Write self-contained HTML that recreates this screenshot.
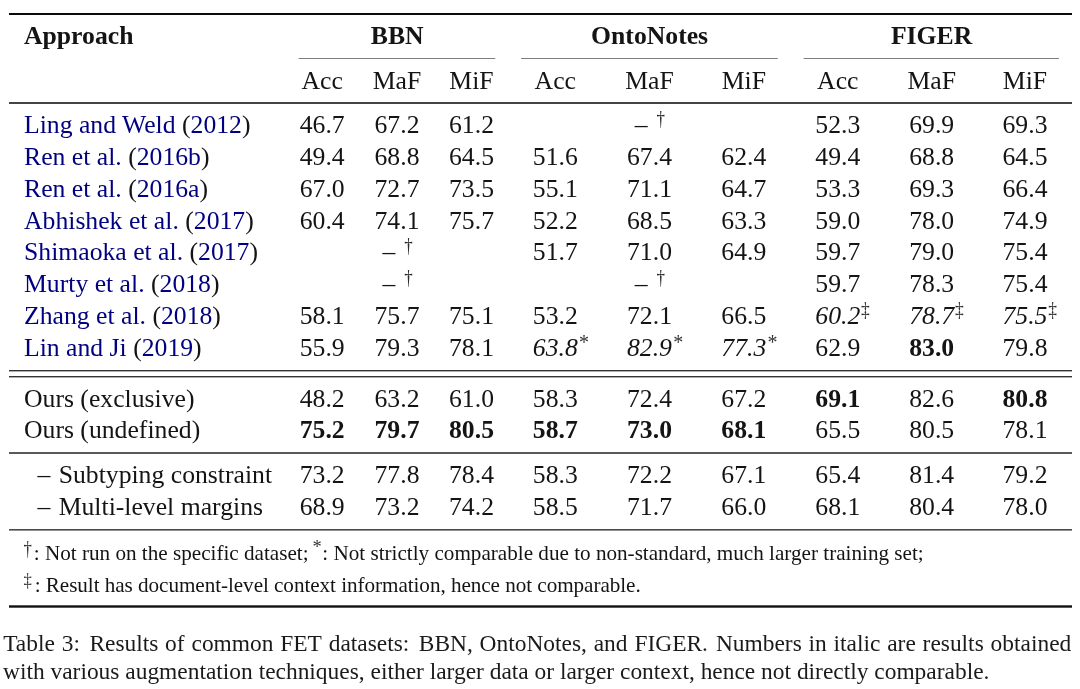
<!DOCTYPE html>
<html><head><meta charset="utf-8"><title>Table 3</title>
<style>
html,body{margin:0;padding:0;background:#fff;width:1080px;height:689px;overflow:hidden}
svg{display:block;font-family:"Liberation Serif","Times New Roman",serif;font-size:25.7px;fill:#141414}
</style></head><body>
<svg width="1080" height="689" viewBox="0 0 1080 689">
<rect x="9" y="13" width="1063.00" height="2" fill="#0a0a0a"/>
<rect x="298.6" y="58" width="196.70" height="1" fill="#7f7f7f"/>
<rect x="521.1" y="58" width="256.70" height="1" fill="#7f7f7f"/>
<rect x="803.6" y="58" width="255.30" height="1" fill="#7f7f7f"/>
<rect x="9" y="102" width="1063.00" height="2" fill="#444"/>
<rect x="9" y="370" width="1063.00" height="1.4" fill="#333"/>
<rect x="9" y="376" width="1063.00" height="1.4" fill="#333"/>
<rect x="9" y="452" width="1063.00" height="2" fill="#5a5a5a"/>
<rect x="9" y="529" width="1063.00" height="1.6" fill="#4a4a4a"/>
<rect x="9" y="605.3" width="1063.00" height="2.4" fill="#111"/>
<text x="24.00" y="44.00" font-weight="bold">Approach</text>
<text x="397.20" y="44.00" text-anchor="middle" font-weight="bold">BBN</text>
<text x="649.60" y="44.00" text-anchor="middle" font-weight="bold">OntoNotes</text>
<text x="931.60" y="44.00" text-anchor="middle" font-weight="bold">FIGER</text>
<text x="322.20" y="89.00" text-anchor="middle">Acc</text>
<text x="397.00" y="89.00" text-anchor="middle">MaF</text>
<text x="471.50" y="89.00" text-anchor="middle">MiF</text>
<text x="555.30" y="89.00" text-anchor="middle">Acc</text>
<text x="649.50" y="89.00" text-anchor="middle">MaF</text>
<text x="743.80" y="89.00" text-anchor="middle">MiF</text>
<text x="837.80" y="89.00" text-anchor="middle">Acc</text>
<text x="931.70" y="89.00" text-anchor="middle">MaF</text>
<text x="1025.00" y="89.00" text-anchor="middle">MiF</text>
<text x="24.00" y="133.00"><tspan fill="#000080">Ling and Weld </tspan>(<tspan fill="#000080">2012</tspan>)</text>
<text x="322.20" y="133.00" text-anchor="middle">46.7</text>
<text x="397.00" y="133.00" text-anchor="middle">67.2</text>
<text x="471.50" y="133.00" text-anchor="middle">61.2</text>
<text x="634.80" y="133.00">–</text>
<text transform="translate(656.60 125.20) scale(0.78 1)" x="0" y="0" font-size="21.8" fill="#2a2a2a">†</text>
<text x="837.80" y="133.00" text-anchor="middle">52.3</text>
<text x="931.70" y="133.00" text-anchor="middle">69.9</text>
<text x="1025.00" y="133.00" text-anchor="middle">69.3</text>
<text x="24.00" y="165.00"><tspan fill="#000080">Ren et al. </tspan>(<tspan fill="#000080">2016b</tspan>)</text>
<text x="322.20" y="165.00" text-anchor="middle">49.4</text>
<text x="397.00" y="165.00" text-anchor="middle">68.8</text>
<text x="471.50" y="165.00" text-anchor="middle">64.5</text>
<text x="555.30" y="165.00" text-anchor="middle">51.6</text>
<text x="649.50" y="165.00" text-anchor="middle">67.4</text>
<text x="743.80" y="165.00" text-anchor="middle">62.4</text>
<text x="837.80" y="165.00" text-anchor="middle">49.4</text>
<text x="931.70" y="165.00" text-anchor="middle">68.8</text>
<text x="1025.00" y="165.00" text-anchor="middle">64.5</text>
<text x="24.00" y="197.00"><tspan fill="#000080">Ren et al. </tspan>(<tspan fill="#000080">2016a</tspan>)</text>
<text x="322.20" y="197.00" text-anchor="middle">67.0</text>
<text x="397.00" y="197.00" text-anchor="middle">72.7</text>
<text x="471.50" y="197.00" text-anchor="middle">73.5</text>
<text x="555.30" y="197.00" text-anchor="middle">55.1</text>
<text x="649.50" y="197.00" text-anchor="middle">71.1</text>
<text x="743.80" y="197.00" text-anchor="middle">64.7</text>
<text x="837.80" y="197.00" text-anchor="middle">53.3</text>
<text x="931.70" y="197.00" text-anchor="middle">69.3</text>
<text x="1025.00" y="197.00" text-anchor="middle">66.4</text>
<text x="24.00" y="229.00"><tspan fill="#000080">Abhishek et al. </tspan>(<tspan fill="#000080">2017</tspan>)</text>
<text x="322.20" y="229.00" text-anchor="middle">60.4</text>
<text x="397.00" y="229.00" text-anchor="middle">74.1</text>
<text x="471.50" y="229.00" text-anchor="middle">75.7</text>
<text x="555.30" y="229.00" text-anchor="middle">52.2</text>
<text x="649.50" y="229.00" text-anchor="middle">68.5</text>
<text x="743.80" y="229.00" text-anchor="middle">63.3</text>
<text x="837.80" y="229.00" text-anchor="middle">59.0</text>
<text x="931.70" y="229.00" text-anchor="middle">78.0</text>
<text x="1025.00" y="229.00" text-anchor="middle">74.9</text>
<text x="24.00" y="260.00"><tspan fill="#000080">Shimaoka et al. </tspan>(<tspan fill="#000080">2017</tspan>)</text>
<text x="382.40" y="260.00">–</text>
<text transform="translate(404.20 252.20) scale(0.78 1)" x="0" y="0" font-size="21.8" fill="#2a2a2a">†</text>
<text x="555.30" y="260.00" text-anchor="middle">51.7</text>
<text x="649.50" y="260.00" text-anchor="middle">71.0</text>
<text x="743.80" y="260.00" text-anchor="middle">64.9</text>
<text x="837.80" y="260.00" text-anchor="middle">59.7</text>
<text x="931.70" y="260.00" text-anchor="middle">79.0</text>
<text x="1025.00" y="260.00" text-anchor="middle">75.4</text>
<text x="24.00" y="292.00"><tspan fill="#000080">Murty et al. </tspan>(<tspan fill="#000080">2018</tspan>)</text>
<text x="382.40" y="292.00">–</text>
<text transform="translate(404.20 284.20) scale(0.78 1)" x="0" y="0" font-size="21.8" fill="#2a2a2a">†</text>
<text x="634.80" y="292.00">–</text>
<text transform="translate(656.60 284.20) scale(0.78 1)" x="0" y="0" font-size="21.8" fill="#2a2a2a">†</text>
<text x="837.80" y="292.00" text-anchor="middle">59.7</text>
<text x="931.70" y="292.00" text-anchor="middle">78.3</text>
<text x="1025.00" y="292.00" text-anchor="middle">75.4</text>
<text x="24.00" y="324.00"><tspan fill="#000080">Zhang et al. </tspan>(<tspan fill="#000080">2018</tspan>)</text>
<text x="322.20" y="324.00" text-anchor="middle">58.1</text>
<text x="397.00" y="324.00" text-anchor="middle">75.7</text>
<text x="471.50" y="324.00" text-anchor="middle">75.1</text>
<text x="555.30" y="324.00" text-anchor="middle">53.2</text>
<text x="649.50" y="324.00" text-anchor="middle">72.1</text>
<text x="743.80" y="324.00" text-anchor="middle">66.5</text>
<text x="815.30" y="324.00" font-style="italic">60.2</text>
<text transform="translate(861.10 316.00) scale(0.85 1)" x="0" y="0" font-size="20.6" fill="#333">‡</text>
<text x="909.20" y="324.00" font-style="italic">78.7</text>
<text transform="translate(955.00 316.00) scale(0.85 1)" x="0" y="0" font-size="20.6" fill="#333">‡</text>
<text x="1002.50" y="324.00" font-style="italic">75.5</text>
<text transform="translate(1048.30 316.00) scale(0.85 1)" x="0" y="0" font-size="20.6" fill="#333">‡</text>
<text x="24.00" y="356.00"><tspan fill="#000080">Lin and Ji </tspan>(<tspan fill="#000080">2019</tspan>)</text>
<text x="322.20" y="356.00" text-anchor="middle">55.9</text>
<text x="397.00" y="356.00" text-anchor="middle">79.3</text>
<text x="471.50" y="356.00" text-anchor="middle">78.1</text>
<text x="532.80" y="356.00" font-style="italic">63.8<tspan x="579.10" dy="-7.4" font-style="normal" font-size="20" fill="#333">*</tspan></text>
<text x="627.00" y="356.00" font-style="italic">82.9<tspan x="673.30" dy="-7.4" font-style="normal" font-size="20" fill="#333">*</tspan></text>
<text x="721.30" y="356.00" font-style="italic">77.3<tspan x="767.60" dy="-7.4" font-style="normal" font-size="20" fill="#333">*</tspan></text>
<text x="837.80" y="356.00" text-anchor="middle">62.9</text>
<text x="931.70" y="356.00" text-anchor="middle" font-weight="bold">83.0</text>
<text x="1025.00" y="356.00" text-anchor="middle">79.8</text>
<text x="24.00" y="407.00">Ours (exclusive)</text>
<text x="322.20" y="407.00" text-anchor="middle">48.2</text>
<text x="397.00" y="407.00" text-anchor="middle">63.2</text>
<text x="471.50" y="407.00" text-anchor="middle">61.0</text>
<text x="555.30" y="407.00" text-anchor="middle">58.3</text>
<text x="649.50" y="407.00" text-anchor="middle">72.4</text>
<text x="743.80" y="407.00" text-anchor="middle">67.2</text>
<text x="837.80" y="407.00" text-anchor="middle" font-weight="bold">69.1</text>
<text x="931.70" y="407.00" text-anchor="middle">82.6</text>
<text x="1025.00" y="407.00" text-anchor="middle" font-weight="bold">80.8</text>
<text x="24.00" y="438.00">Ours (undefined)</text>
<text x="322.20" y="438.00" text-anchor="middle" font-weight="bold">75.2</text>
<text x="397.00" y="438.00" text-anchor="middle" font-weight="bold">79.7</text>
<text x="471.50" y="438.00" text-anchor="middle" font-weight="bold">80.5</text>
<text x="555.30" y="438.00" text-anchor="middle" font-weight="bold">58.7</text>
<text x="649.50" y="438.00" text-anchor="middle" font-weight="bold">73.0</text>
<text x="743.80" y="438.00" text-anchor="middle" font-weight="bold">68.1</text>
<text x="837.80" y="438.00" text-anchor="middle">65.5</text>
<text x="931.70" y="438.00" text-anchor="middle">80.5</text>
<text x="1025.00" y="438.00" text-anchor="middle">78.1</text>
<text x="37.40" y="483.00">–</text>
<text x="58.70" y="483.00">Subtyping constraint</text>
<text x="322.20" y="483.00" text-anchor="middle">73.2</text>
<text x="397.00" y="483.00" text-anchor="middle">77.8</text>
<text x="471.50" y="483.00" text-anchor="middle">78.4</text>
<text x="555.30" y="483.00" text-anchor="middle">58.3</text>
<text x="649.50" y="483.00" text-anchor="middle">72.2</text>
<text x="743.80" y="483.00" text-anchor="middle">67.1</text>
<text x="837.80" y="483.00" text-anchor="middle">65.4</text>
<text x="931.70" y="483.00" text-anchor="middle">81.4</text>
<text x="1025.00" y="483.00" text-anchor="middle">79.2</text>
<text x="37.40" y="515.00">–</text>
<text x="58.70" y="515.00">Multi-level margins</text>
<text x="322.20" y="515.00" text-anchor="middle">68.9</text>
<text x="397.00" y="515.00" text-anchor="middle">73.2</text>
<text x="471.50" y="515.00" text-anchor="middle">74.2</text>
<text x="555.30" y="515.00" text-anchor="middle">58.5</text>
<text x="649.50" y="515.00" text-anchor="middle">71.7</text>
<text x="743.80" y="515.00" text-anchor="middle">66.0</text>
<text x="837.80" y="515.00" text-anchor="middle">68.1</text>
<text x="931.70" y="515.00" text-anchor="middle">80.4</text>
<text x="1025.00" y="515.00" text-anchor="middle">78.0</text>
<text transform="translate(23.60 555.00) scale(0.82 1)" x="0" y="0" font-size="20.5" fill="#333">†</text>
<text x="33.80" y="560.00" font-size="21.15">: Not run on the specific dataset;</text>
<text x="312.40" y="553.00" font-size="18.5" fill="#333">*</text>
<text x="322.30" y="560.00" font-size="21.15">: Not strictly comparable due to non-standard, much larger training set;</text>
<text transform="translate(23.60 585.50) scale(0.9 1)" x="0" y="0" font-size="18.4" fill="#333">‡</text>
<text x="34.70" y="592.00" font-size="21.15" textLength="606" lengthAdjust="spacing">: Result has document-level context information, hence not comparable.</text>
<text x="3.20" y="651.00" font-size="23.43" fill="#1a1a1a"><tspan x="3.2">Table </tspan><tspan x="61.7">3: </tspan><tspan x="89.4">Results </tspan><tspan x="165.1">of </tspan><tspan x="191.5">common </tspan><tspan x="280.2">FET </tspan><tspan x="328.7">datasets: </tspan><tspan x="418.8">BBN, </tspan><tspan x="479.6">OntoNotes, </tspan><tspan x="593.7">and </tspan><tspan x="634.4">FIGER. </tspan><tspan x="715.9">Numbers </tspan><tspan x="808.6">in </tspan><tspan x="833.6">italic </tspan><tspan x="887.2">are </tspan><tspan x="922.6">results </tspan><tspan x="990.6">obtained </tspan></text>
<text x="3.00" y="679.00" font-size="23.43" fill="#1a1a1a">with various augmentation techniques, either larger data or larger context, hence not directly comparable.</text>
</svg>
</body></html>
